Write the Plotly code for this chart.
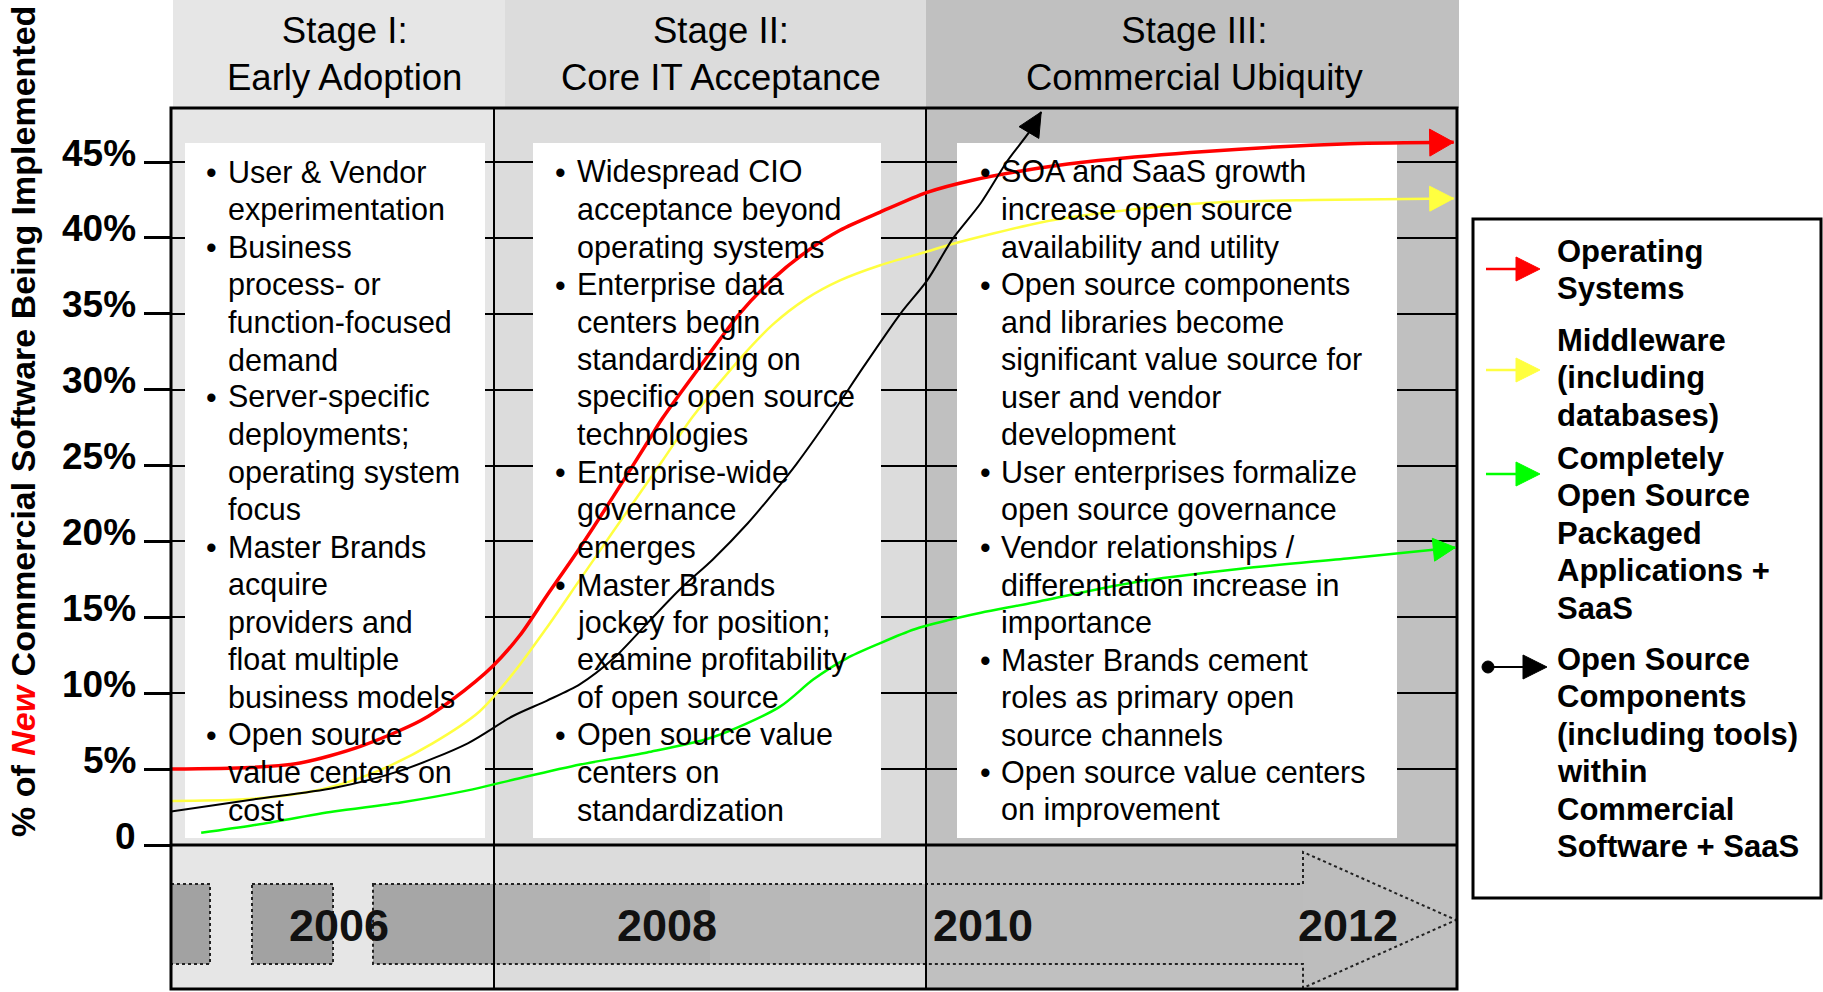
import math
import plotly.graph_objects as go

W, H = 1823, 992

# ------------------------------------------------------------------ data
os_years = [2005.00, 2005.47, 2005.77, 2006.13, 2006.49, 2006.68, 2006.92, 2007.08, 2007.24,
            2007.44, 2007.64, 2007.84, 2007.93, 2008.20, 2008.39, 2008.59, 2008.79, 2008.99,
            2009.23, 2009.51, 2009.78, 2010.18, 2010.53, 2011.17, 2012.03, 2012.65]
os_pct = [5.0, 5.1, 5.4, 6.5, 8.2, 9.6, 11.8, 13.8, 16.4, 19.6, 23.0, 26.5, 28.1, 32.2,
          35.0, 37.3, 39.1, 40.5, 41.7, 43.0, 43.8, 44.6, 45.1, 45.7, 46.2, 46.3]

mw_years = [2004.95, 2005.41, 2005.71, 2005.95, 2006.26, 2006.56, 2006.84, 2007.04, 2007.24,
            2007.44, 2007.64, 2007.76, 2007.93, 2008.11, 2008.39, 2008.59, 2008.79, 2008.99,
            2009.23, 2009.51, 2009.66, 2010.18, 2010.53, 2011.17, 2011.81, 2012.65]
mw_pct = [2.9, 3.0, 3.3, 3.8, 5.0, 6.7, 8.8, 11.3, 14.3, 17.5, 20.7, 22.6, 25.3, 28.2,
          32.0, 34.3, 36.0, 37.2, 38.2, 39.1, 39.6, 41.0, 41.6, 42.3, 42.5, 42.6]

app_years = [2005.18, 2005.49, 2005.97, 2006.37, 2006.77, 2007.04, 2007.44, 2007.84, 2008.23,
             2008.63, 2008.83, 2009.03, 2009.23, 2009.43, 2009.63, 2009.83, 2010.11, 2010.74,
             2011.38, 2012.03, 2012.66]
app_pct = [0.8, 1.3, 2.2, 2.8, 3.6, 4.3, 5.3, 6.1, 7.1, 9.1, 10.9, 12.3, 13.3, 14.2, 14.8,
           15.3, 15.9, 17.3, 18.2, 18.9, 19.6]

comp_years = [2005.00, 2005.49, 2005.97, 2006.37, 2006.77, 2007.04, 2007.24, 2007.44, 2007.64,
              2007.84, 2008.04, 2008.23, 2008.44, 2008.63, 2008.73, 2008.93, 2009.13, 2009.35,
              2009.51, 2009.66, 2009.83, 2009.99, 2010.12, 2010.19]
comp_pct = [2.2, 3.0, 3.75, 4.9, 6.7, 8.5, 9.5, 10.6, 12.3, 14.6, 16.9, 18.8, 21.2, 23.7,
            25.1, 28.2, 31.5, 35.0, 37.2, 39.9, 42.3, 45.1, 47.0, 48.3]

series_colors = ["#ff0000", "#ffff40", "#00ff00", "#000000"]

ytick_vals = [0, 5, 10, 15, 20, 25, 30, 35, 40, 45]
ytick_text = ["0", "5%", "10%", "15%", "20%", "25%", "30%", "35%", "40%", "45%"]

stage_titles = ["Stage I:<br>Early Adoption",
                "Stage II:<br>Core IT Acceptance",
                "Stage III:<br>Commercial Ubiquity"]

stage1_items = [
    ["User & Vendor", "experimentation"],
    ["Business", "process- or", "function-focused", "demand"],
    ["Server-specific", "deployments;", "operating system", "focus"],
    ["Master Brands", "acquire", "providers and", "float multiple", "business models"],
    ["Open source", "value centers on", "cost"],
]
stage2_items = [
    ["Widespread CIO", "acceptance beyond", "operating systems"],
    ["Enterprise data", "centers begin", "standardizing on", "specific open source", "technologies"],
    ["Enterprise-wide", "governance", "emerges"],
    ["Master Brands", "jockey for position;", "examine profitability", "of open source"],
    ["Open source value", "centers on", "standardization"],
]
stage3_items = [
    ["SOA and SaaS growth", "increase open source", "availability and utility"],
    ["Open source components", "and libraries become", "significant value source for",
     "user and vendor", "development"],
    ["User enterprises formalize", "open source governance"],
    ["Vendor relationships /", "differentiation increase in", "importance"],
    ["Master Brands cement", "roles as primary open", "source channels"],
    ["Open source value centers", "on improvement"],
]

timeline_labels = ["2006", "2008", "2010", "2012"]
timeline_label_years = [2006.0, 2007.96, 2009.84, 2012.02]

legend_labels = [
    ["Operating", "Systems"],
    ["Middleware", "(including", "databases)"],
    ["Completely", "Open Source", "Packaged", "Applications +", "SaaS"],
    ["Open Source", "Components", "(including tools)", "within", "Commercial", "Software + SaaS"],
]

# ------------------------------------------------------------------ geometry (pixels)
PL, PR, PT, PB = 171, 1457, 108, 989
ZERO_Y = 845
PX_PER_PCT = 683 / 45.0
X0_YEAR = 2005.0
PX_PER_YEAR = 167.67
x_range = [X0_YEAR, X0_YEAR + (PR - PL) / PX_PER_YEAR]
y_range = [-(PB - ZERO_Y) / PX_PER_PCT, (ZERO_Y - PT) / PX_PER_PCT]


def fx(px):
    return px / W


def fy(py):
    return 1 - py / H


def to_data(px, py):
    return X0_YEAR + (px - PL) / PX_PER_YEAR, (ZERO_Y - py) / PX_PER_PCT


def to_paper(px, py):
    return fx(px), fy(py)


def to_px(year, pct):
    return PL + (year - X0_YEAR) * PX_PER_YEAR, ZERO_Y - pct * PX_PER_PCT


def poly_path(pts, conv):
    s = ""
    for i, (a, b) in enumerate(pts):
        u, v = conv(a, b)
        s += ("M" if i == 0 else "L") + f"{u:.5f},{v:.5f} "
    return s + "Z"


def head_pts(tip, back, L, Wd):
    dx, dy = tip[0] - back[0], tip[1] - back[1]
    n = math.hypot(dx, dy)
    ux, uy = dx / n, dy / n
    bx, by = tip[0] - L * ux, tip[1] - L * uy
    nx, ny = -uy, ux
    return [tip, (bx + Wd * nx, by + Wd * ny), (bx - Wd * nx, by - Wd * ny)]


def drect(x0, y0, x1, y1, **kw):
    a, b = to_data(x0, y0)
    c, d = to_data(x1, y1)
    return dict(type="rect", xref="x", yref="y", x0=a, y0=b, x1=c, y1=d, **kw)


def prect(x0, y0, x1, y1, **kw):
    return dict(type="rect", xref="paper", yref="paper", x0=fx(x0), y0=fy(y0),
                x1=fx(x1), y1=fy(y1), **kw)


shapes = []
annotations = []
FONT = "Liberation Sans, Arial, sans-serif"

# header band
for (x0, x1), col in zip([(173, 505), (505, 926), (926, 1459)], ["#e6e6e6", "#dcdcdc", "#c0c0c0"]):
    shapes.append(prect(x0, 0, x1, PT, fillcolor=col, line=dict(width=0), layer="below"))

# stage backgrounds inside the plot
stage_px = [(PL, 494), (494, 926), (926, PR)]
for (x0, x1), col in zip(stage_px, ["#e6e6e6", "#dcdcdc", "#c0c0c0"]):
    shapes.append(drect(x0, PT, x1, PB, fillcolor=col, line=dict(width=0), layer="below"))

# timeline arrow (fills)
BT, BB = 884, 964
for (x0, x1), col in [((PL, 210), "#a2a2a2"), ((252, 333), "#a2a2a2"), ((373, 494), "#a6a6a6"),
                      ((494, 710), "#b2b2b2"), ((710, 926), "#b8b8b8"), ((926, 1303), "#bcbcbc")]:
    shapes.append(drect(x0, BT, x1, BB, fillcolor=col, line=dict(width=0), layer="below"))
head = [(1303, 852), (1456, 920), (1303, 988)]
shapes.append(dict(type="path", xref="x", yref="y", path=poly_path(head, to_data),
                   fillcolor="#bdbdbd", line=dict(width=0), layer="below"))
dot_line = dict(color="#222222", width=2, dash="dot")
shapes.append(drect(PL, BT, 210, BB, fillcolor="rgba(0,0,0,0)", line=dot_line, layer="below"))
shapes.append(drect(252, BT, 333, BB, fillcolor="rgba(0,0,0,0)", line=dot_line, layer="below"))
outline = [(373, BT), (1303, BT), (1303, 852), (1456, 920), (1303, 988), (1303, BB), (373, BB)]
shapes.append(dict(type="path", xref="x", yref="y", path=poly_path(outline, to_data),
                   fillcolor="rgba(0,0,0,0)", line=dot_line, layer="below"))

# white text boxes (cover gridlines, under curves)
for x0, x1 in [(185, 485), (533, 881), (957, 1397)]:
    shapes.append(drect(x0, 143, x1, 838, fillcolor="white", line=dict(width=0), layer="between"))

# stage separators and zero line
for xs in [494, 926]:
    a, b = to_data(xs, PT)
    c, d = to_data(xs, PB)
    shapes.append(dict(type="line", xref="x", yref="y", x0=a, y0=b, x1=c, y1=d,
                       line=dict(color="black", width=2), layer="between"))
shapes.append(dict(type="line", xref="x", yref="y", x0=x_range[0], y0=0, x1=x_range[1], y1=0,
                   line=dict(color="black", width=3), layer="between"))

# plot border
shapes.append(prect(PL, PT, PR, PB, fillcolor="rgba(0,0,0,0)", line=dict(color="black", width=3),
                    layer="above"))

# curves
traces = []
all_series = [(os_years, os_pct, 3.5, 24, 13.5), (mw_years, mw_pct, 2.5, 24, 12.5),
              (app_years, app_pct, 2.5, 22, 11.5), (comp_years, comp_pct, 2, 24, 11.5)]
for (xs, ys, lw, hl, hw), col in zip(all_series, series_colors):
    traces.append(go.Scatter(x=xs, y=ys, mode="lines", cliponaxis=False, showlegend=False,
                             hoverinfo="skip",
                             line=dict(color=col, width=lw, shape="spline", smoothing=0.8)))
    tip = to_px(xs[-1], ys[-1])
    back = to_px(xs[-2], ys[-2])
    shapes.append(dict(type="path", xref="x", yref="y",
                       path=poly_path(head_pts(tip, back, hl, hw), to_data),
                       fillcolor=col, line=dict(color=col, width=1), layer="above"))

# y tick labels (sit slightly above their tick marks, as in the original)
for v, t in zip(ytick_vals, ytick_text):
    annotations.append(dict(xref="paper", yref="y", x=fx(138), y=v, yshift=9, text=f"<b>{t}</b>",
                            showarrow=False, xanchor="right", yanchor="middle",
                            font=dict(family=FONT, size=37, color="black")))

# stage titles
for title, cx in zip(stage_titles, [344, 721, 1194]):
    annotations.append(dict(xref="paper", yref="paper", x=fx(cx), y=fy(54), text=title,
                            showarrow=False, xanchor="center", yanchor="middle",
                            font=dict(family=FONT, size=36.5, color="#000000")))

# bullet text
LINE0, LSTEP, TFONT = 172, 37.5, 30.5
for items, bx, tx in [(stage1_items, 204, 226), (stage2_items, 553, 575), (stage3_items, 978, 999)]:
    i = 0
    for item in items:
        annotations.append(dict(xref="paper", yref="paper", x=fx(bx), y=fy(LINE0 + i * LSTEP),
                                text="•", showarrow=False, xanchor="left", yanchor="middle",
                                font=dict(family=FONT, size=TFONT, color="black")))
        for line in item:
            annotations.append(dict(xref="paper", yref="paper", x=fx(tx), y=fy(LINE0 + i * LSTEP),
                                    text=line, showarrow=False, xanchor="left", yanchor="middle",
                                    font=dict(family=FONT, size=TFONT, color="black")))
            i += 1

# timeline year labels
for lab, yr in zip(timeline_labels, timeline_label_years):
    annotations.append(dict(xref="x", yref="y", x=yr, y=to_data(0, 925)[1], text=f"<b>{lab}</b>",
                            showarrow=False, xanchor="center", yanchor="middle",
                            font=dict(family=FONT, size=45, color="#111111")))

# y-axis title
annotations.append(dict(xref="paper", yref="paper", x=fx(23), y=fy(422), textangle=-90,
                        text="<b>% of <span style='color:#ff0000'><i>New</i></span> "
                             "Commercial Software Being Implemented</b>",
                        showarrow=False, xanchor="center", yanchor="middle",
                        font=dict(family=FONT, size=34, color="black")))

# legend box
shapes.append(prect(1473, 219, 1821, 898, fillcolor="white", line=dict(color="black", width=3),
                    layer="above"))
leg_first = [251, 340, 458, 659]
leg_arrow_y = [269, 370, 474, 667]
for k, (labels, y0, ay, col) in enumerate(zip(legend_labels, leg_first, leg_arrow_y, series_colors)):
    x_start, tip_x = (1486, 1540) if k < 3 else (1488, 1547)
    shapes.append(dict(type="line", xref="paper", yref="paper", x0=fx(x_start), y0=fy(ay),
                       x1=fx(tip_x - 20), y1=fy(ay), line=dict(color=col, width=2.5 if k < 3 else 2),
                       layer="above"))
    shapes.append(dict(type="path", xref="paper", yref="paper",
                       path=poly_path(head_pts((tip_x, ay), (x_start, ay), 24, 12), to_paper),
                       fillcolor=col, line=dict(color=col, width=1), layer="above"))
    if k == 3:
        shapes.append(dict(type="circle", xref="paper", yref="paper", x0=fx(1482), y0=fy(ay - 6),
                           x1=fx(1494), y1=fy(ay + 6), fillcolor="black",
                           line=dict(color="black", width=1), layer="above"))
    for j, lab in enumerate(labels):
        annotations.append(dict(xref="paper", yref="paper", x=fx(1555), y=fy(y0 + j * 37.5),
                                text=f"<b>{lab}</b>", showarrow=False, xanchor="left",
                                yanchor="middle", font=dict(family=FONT, size=31, color="black")))

fig = go.Figure(traces)
fig.update_layout(
    width=W, height=H, margin=dict(l=0, r=0, t=0, b=0),
    paper_bgcolor="white", plot_bgcolor="rgba(0,0,0,0)",
    showlegend=False, shapes=shapes, annotations=annotations,
    xaxis=dict(range=x_range, domain=[fx(PL), fx(PR)], visible=False, fixedrange=True),
    yaxis=dict(range=y_range, domain=[fy(PB), fy(PT)], tickvals=ytick_vals,
               showticklabels=False,
               ticks="outside", ticklen=26, tickwidth=3, tickcolor="black",
               showgrid=True, gridcolor="black", gridwidth=2, zeroline=False, showline=False,
               fixedrange=True),
)
fig.write_html("out.html", config={"displayModeBar": False},
               post_script="document.body.style.margin='0px';document.body.style.padding='0px';")
